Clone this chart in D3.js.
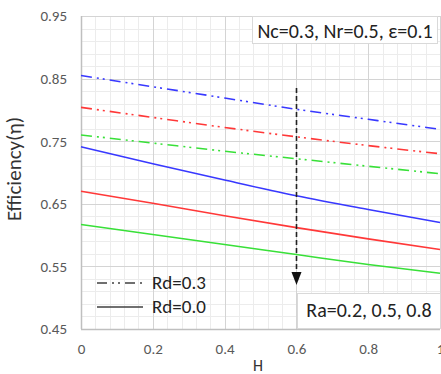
<!DOCTYPE html>
<html>
<head>
<meta charset="utf-8">
<script src="https://cdn.jsdelivr.net/npm/d3@7"></script>
<style>
  html, body { margin: 0; padding: 0; background: #fff; }
  svg { display: block; font-family: Calibri, Carlito, Lato, "Liberation Sans", Arial, sans-serif; }
</style>
</head>
<body>
<svg id="chart" width="441" height="374"></svg>
<script>
// H values along the x axis
const hValues = [0, 0.2, 0.4, 0.6, 0.8, 1.0];

// Efficiency for Ra = 0.2, 0.5, 0.8 with Rd = 0.3 (dash-dot-dot)
const rd03_ra02 = [0.855, 0.837, 0.819, 0.801, 0.785, 0.769];
const rd03_ra05 = [0.804, 0.788, 0.772, 0.757, 0.743, 0.730];
const rd03_ra08 = [0.760, 0.747, 0.734, 0.722, 0.710, 0.698];

// Efficiency for Ra = 0.2, 0.5, 0.8 with Rd = 0.0 (solid)
const rd00_ra02 = [0.741, 0.714, 0.688, 0.663, 0.641, 0.620];
const rd00_ra05 = [0.670, 0.651, 0.631, 0.612, 0.594, 0.577];
const rd00_ra08 = [0.617, 0.601, 0.585, 0.569, 0.553, 0.539];

const xTicks = [0, 0.2, 0.4, 0.6, 0.8, 1];
const yTicks = [0.45, 0.55, 0.65, 0.75, 0.85, 0.95];

const colors = { ra02: "#3838ff", ra05: "#ff3838", ra08: "#38e038" };

const series = [
  { values: rd03_ra02, color: colors.ra02, dashed: true },
  { values: rd03_ra05, color: colors.ra05, dashed: true },
  { values: rd03_ra08, color: colors.ra08, dashed: true },
  { values: rd00_ra02, color: colors.ra02, dashed: false },
  { values: rd00_ra05, color: colors.ra05, dashed: false },
  { values: rd00_ra08, color: colors.ra08, dashed: false }
];

const svg = d3.select("#chart");
const plotLeft = 81, plotRight = 440, plotTop = 16, plotBottom = 329;

const x = d3.scaleLinear().domain([0, 1]).range([plotLeft, plotRight]);
const y = d3.scaleLinear().domain([0.45, 0.95]).range([plotBottom, plotTop]);

// Minor grid
const minorX = d3.range(0, 1.0001, 0.04);
const minorY = d3.range(0.45, 0.9501, 0.02);
const grid = svg.append("g");
grid.selectAll(".mx").data(minorX).join("line")
  .attr("x1", d => Math.round(x(d)) + 0.5).attr("x2", d => Math.round(x(d)) + 0.5)
  .attr("y1", plotTop).attr("y2", plotBottom)
  .attr("stroke", "#ececec").attr("stroke-width", 1);
grid.selectAll(".my").data(minorY).join("line")
  .attr("y1", d => Math.round(y(d)) + 0.5).attr("y2", d => Math.round(y(d)) + 0.5)
  .attr("x1", plotLeft).attr("x2", plotRight)
  .attr("stroke", "#ececec").attr("stroke-width", 1);

// Major grid
grid.selectAll(".Mx").data(xTicks).join("line")
  .attr("x1", d => Math.round(x(d)) + 0.5).attr("x2", d => Math.round(x(d)) + 0.5)
  .attr("y1", plotTop).attr("y2", plotBottom)
  .attr("stroke", "#d4d4d4").attr("stroke-width", 1);
grid.selectAll(".My").data(yTicks).join("line")
  .attr("y1", d => Math.round(y(d)) + 0.5).attr("y2", d => Math.round(y(d)) + 0.5)
  .attr("x1", plotLeft).attr("x2", plotRight)
  .attr("stroke", "#d4d4d4").attr("stroke-width", 1);

// Axis lines
svg.append("line").attr("x1", plotLeft + 0.5).attr("x2", plotLeft + 0.5).attr("y1", plotTop).attr("y2", plotBottom)
  .attr("stroke", "#bfbfbf").attr("stroke-width", 1.5);
svg.append("line").attr("x1", plotLeft).attr("x2", plotRight).attr("y1", plotBottom + 0.5).attr("y2", plotBottom + 0.5)
  .attr("stroke", "#bfbfbf").attr("stroke-width", 1.5);

// Tick labels via d3 axes
const xAxis = svg.append("g").attr("transform", `translate(0,${plotBottom})`)
  .call(d3.axisBottom(x).tickValues(xTicks).tickSize(0).tickPadding(14).tickFormat(d3.format("")));
const yAxis = svg.append("g").attr("transform", `translate(${plotLeft},0)`)
  .call(d3.axisLeft(y).tickValues(yTicks).tickSize(0).tickPadding(14).tickFormat(d3.format(".2f")));
[xAxis, yAxis].forEach(a => {
  a.select(".domain").remove();
  a.selectAll("text").attr("fill", "#595959").style("font-size", "15px")
    .style("font-family", "Calibri, Carlito, Lato, 'Liberation Sans', Arial, sans-serif");
});

// Curves
const line = d3.line().x((d, i) => x(hValues[i])).y(d => y(d)).curve(d3.curveMonotoneX);
svg.append("g").selectAll("path").data(series).join("path")
  .attr("d", d => line(d.values))
  .attr("fill", "none")
  .attr("stroke", d => d.color)
  .attr("stroke-width", 1.6)
  .attr("stroke-dasharray", d => d.dashed ? "11 5 2 4 2 5" : null);

// Trend arrow at H = 0.6
const ax = Math.round(x(0.6)) + 0.5;
svg.append("line").attr("x1", ax).attr("x2", ax)
  .attr("y1", 88).attr("y2", 274)
  .attr("stroke", "#222").attr("stroke-width", 1.6).attr("stroke-dasharray", "5 3");
svg.append("path")
  .attr("d", `M${ax - 5},272 L${ax + 5},272 L${ax},285 Z`)
  .attr("fill", "#111");

// Annotation boxes
function box(x0, y0, w, h, text, size, baseline) {
  svg.append("rect").attr("x", x0).attr("y", y0).attr("width", w).attr("height", h)
    .attr("fill", "#fff").attr("stroke", "#d9d9d9").attr("stroke-width", 1);
  svg.append("text").attr("x", x0 + w / 2).attr("y", baseline)
    .attr("text-anchor", "middle").attr("fill", "#222").style("font-size", size + "px")
    .text(text);
}
box(252.5, 16.5, 185, 27, "Nc=0.3, Nr=0.5, ε=0.1", 20, 38);
box(297.5, 293.5, 143, 35, "Ra=0.2, 0.5, 0.8", 20, 317);

// Legend
const legend = [
  { label: "Rd=0.3", dashed: true, yy: 283 },
  { label: "Rd=0.0", dashed: false, yy: 307 }
];
const lg = svg.append("g");
lg.selectAll("line").data(legend).join("line")
  .attr("x1", 97).attr("x2", 143).attr("y1", d => d.yy).attr("y2", d => d.yy)
  .attr("stroke", "#404040").attr("stroke-width", 1.6)
  .attr("stroke-dasharray", d => d.dashed ? "10 5 2 4 2 5" : null);
lg.selectAll("text").data(legend).join("text")
  .attr("x", 152).attr("y", d => d.yy + 6)
  .attr("fill", "#222").style("font-size", "19px")
  .text(d => d.label);

// Axis titles
svg.append("text").attr("x", 258).attr("y", 371)
  .attr("text-anchor", "middle").attr("fill", "#333").style("font-size", "16px").text("H");
svg.append("text").attr("transform", `translate(21,169) rotate(-90)`)
  .attr("text-anchor", "middle").attr("fill", "#333").style("font-size", "21px").text("Efficiency(η)");
</script>
</body>
</html>
